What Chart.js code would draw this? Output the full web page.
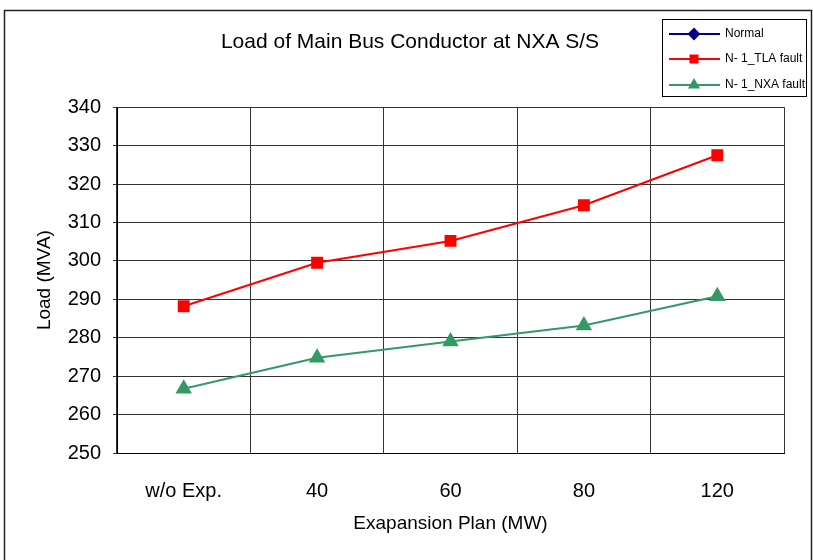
<!DOCTYPE html>
<html>
<head>
<meta charset="utf-8">
<script src="https://cdn.jsdelivr.net/npm/chart.js@4.4.0/dist/chart.umd.min.js"></script>
<style>
    html, body { margin: 0; padding: 0; background: #fff; }
    #wrap { width: 813px; height: 560px; }
</style>
</head>
<body>
<div id="wrap"><canvas id="loadChart" width="813" height="560"></canvas></div>
<script>
// ------------------- DATA -------------------
const categories = ["w/o Exp.", "40", "60", "80", "120"];
const normalLoad = [null, null, null, null, null];   // below the 250 axis floor, nothing shows
const tlaFaultLoad = [288.2, 299.5, 305.2, 314.5, 327.5];
const nxaFaultLoad = [266.7, 274.8, 279.0, 283.2, 290.8];
const yMin = 250;
const yMax = 340;
const yStep = 10;

const FONT = "'Liberation Sans', Arial, sans-serif";

// ------------------- OUTER FRAME -------------------
const framePlugin = {
    id: 'frame',
    beforeDraw(chart) {
        const ctx = chart.ctx;
        ctx.save();
        ctx.fillStyle = '#fff';
        ctx.fillRect(0, 0, chart.width, chart.height);
        ctx.strokeStyle = '#222';
        ctx.lineWidth = 1.5;
        ctx.strokeRect(4.5, 10.5, 807, 560);
        ctx.restore();
    }
};

// ------------------- EXCEL STYLE LEGEND -------------------
const boxLegendPlugin = {
    id: 'boxLegend',
    afterDraw(chart) {
        const ctx = chart.ctx;
        const rows = [34, 59, 85];
        ctx.save();
        ctx.fillStyle = '#fff';
        ctx.fillRect(662, 19, 144, 77);
        ctx.strokeStyle = '#000';
        ctx.lineWidth = 1;
        ctx.strokeRect(662.5, 19.5, 144, 77);

        chart.data.datasets.forEach((ds, i) => {
            const y = rows[i];
            ctx.strokeStyle = ds.borderColor;
            ctx.lineWidth = 2;
            ctx.beginPath();
            ctx.moveTo(669, y);
            ctx.lineTo(720, y);
            ctx.stroke();

            ctx.fillStyle = ds.pointBackgroundColor;
            ctx.strokeStyle = ds.pointBorderColor;
            Chart.helpers.drawPoint(ctx, {
                pointStyle: ds.pointStyle,
                radius: 5,
                borderWidth: 1,
                rotation: ds.pointRotation || 0
            }, 694, y);

            ctx.fillStyle = '#000';
            ctx.font = "12px " + FONT;
            ctx.textBaseline = 'middle';
            ctx.textAlign = 'left';
            ctx.fillText(ds.label, 725, y);
        });
        ctx.restore();
    }
};

// ------------------- CHART -------------------
const ctx = document.getElementById('loadChart').getContext('2d');

new Chart(ctx, {
    type: 'line',
    data: {
        labels: categories,
        datasets: [
            {
                label: "Normal",
                data: normalLoad,
                borderColor: "#000080",
                pointBackgroundColor: "#000080",
                pointBorderColor: "#000080",
                pointStyle: 'rectRot',
                pointRadius: 6,
                borderWidth: 2
            },
            {
                label: "N- 1_TLA fault",
                data: tlaFaultLoad,
                borderColor: "#ff0000",
                pointBackgroundColor: "#ff0000",
                pointBorderColor: "#ff0000",
                pointStyle: 'rect',
                pointRadius: 7,
                borderWidth: 2
            },
            {
                label: "N- 1_NXA fault",
                data: nxaFaultLoad,
                borderColor: "#339966",
                pointBackgroundColor: "#339966",
                pointBorderColor: "#339966",
                pointStyle: 'triangle',
                pointRadius: 7.5,
                borderWidth: 2
            }
        ]
    },
    options: {
        responsive: false,
        animation: false,
        layout: {
            padding: { left: 36, right: 29, top: 0, bottom: 0 }
        },
        plugins: {
            legend: { display: false },
            tooltip: { enabled: false },
            title: {
                display: true,
                text: "Load of Main Bus Conductor at NXA S/S",
                color: '#000',
                font: { family: FONT, size: 21, weight: 'normal' },
                padding: { top: 30, bottom: 52 }
            }
        },
        scales: {
            x: {
                offset: true,
                grid: {
                    color: '#333',
                    lineWidth: 1,
                    drawTicks: false,
                    offset: true
                },
                border: { color: '#000', width: 1 },
                ticks: {
                    color: '#000',
                    font: { family: FONT, size: 20 },
                    padding: 26,
                    maxRotation: 0
                },
                title: {
                    display: true,
                    text: "Exapansion Plan (MW)",
                    color: '#000',
                    font: { family: FONT, size: 19 },
                    padding: { top: 0, bottom: 25 }
                },
                afterFit(axis) { axis.height = 107; }
            },
            y: {
                min: yMin,
                max: yMax,
                grid: {
                    color: '#333',
                    lineWidth: 1,
                    tickLength: 4
                },
                border: { color: '#000', width: 1 },
                ticks: {
                    stepSize: yStep,
                    color: '#000',
                    font: { family: FONT, size: 20 },
                    padding: 12
                },
                title: {
                    display: true,
                    text: "Load (MVA)",
                    color: '#000',
                    font: { family: FONT, size: 19 },
                    padding: { top: -3, bottom: 0 }
                },
                afterFit(axis) { axis.width = 81; }
            }
        }
    },
    plugins: [framePlugin, boxLegendPlugin]
});
</script>
</body>
</html>
